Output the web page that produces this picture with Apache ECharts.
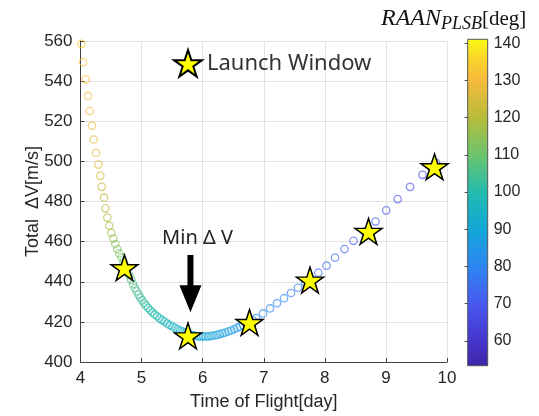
<!DOCTYPE html>
<html>
<head>
<meta charset="utf-8">
<script src="https://cdn.jsdelivr.net/npm/echarts@6/dist/echarts.min.js"></script>
<style>
  html, body { margin: 0; padding: 0; background: #fff; }
  #chart { width: 539px; height: 416px; }
</style>
</head>
<body>
<div id="chart"></div>
<script>
// Transfer solutions: time of flight [day], total delta-V [m/s], RAAN of the PLSB orbit [deg]
const tof = [
  4.013, 4.041, 4.085, 4.123, 4.151, 4.188, 4.216, 4.254, 4.291, 4.324, 4.347,
  4.385, 4.409, 4.439, 4.472, 4.503, 4.537, 4.570, 4.602, 4.635, 4.671, 4.704,
  4.737, 4.766, 4.797, 4.828, 4.860, 4.892, 4.922, 4.951, 4.981, 5.010, 5.041,
  5.072, 5.105, 5.140, 5.176, 5.213, 5.253, 5.293, 5.334, 5.377, 5.419, 5.462,
  5.505, 5.547, 5.590, 5.632, 5.675, 5.717, 5.760, 5.803,
  5.845, 5.888, 5.930, 5.973, 6.015, 6.058, 6.102, 6.146, 6.191, 6.235, 6.281,
  6.326, 6.372, 6.420, 6.467, 6.515, 6.562, 6.611, 6.660, 6.710, 6.759, 6.820,
  6.873, 6.988, 7.103, 7.217, 7.332, 7.446, 7.561, 7.676, 7.766, 7.893, 8.028,
  8.167, 8.322, 8.470, 8.650, 8.830, 9.005, 9.192, 9.395, 9.599, 9.820
];
const deltaV = [
  558.6, 549.4, 540.9, 532.6, 525.1, 517.8, 510.9, 504.3, 498.4, 492.8, 487.3,
  481.9, 476.6, 472.0, 467.9, 464.4, 461.5, 458.8, 456.3, 454.1, 452.1, 449.9,
  447.7, 445.5, 443.3, 441.1, 438.8, 436.9, 435.2, 433.6, 432.1, 430.7, 429.4,
  428.2, 427.0, 425.9, 424.8, 423.7, 422.8, 421.8, 420.9, 420.1, 419.2, 418.4,
  417.7, 417.0, 416.3, 415.7, 415.1, 414.6, 414.1, 413.6,
  413.3, 413.0, 412.8, 412.7, 412.7, 412.7, 412.8, 413.0, 413.2, 413.5, 413.9,
  414.3, 414.7, 415.2, 415.7, 416.3, 417.0, 417.6, 418.4, 419.2, 420.0, 420.8,
  421.9, 424.2, 426.7, 429.3, 431.8, 434.4, 437.0, 439.6, 441.4, 444.5, 448.0,
  452.0, 456.3, 460.4, 464.9, 470.0, 475.6, 481.2, 487.3, 493.3, 499.3
];
const raan = [
  133.0, 132.1, 131.0, 130.2, 129.1, 128.0, 127.2, 126.1, 125.0, 124.1, 123.0,
  121.6, 120.4, 119.1, 117.9, 116.6, 115.4, 114.2, 113.1, 112.0, 111.1, 110.0,
  109.1, 108.3, 107.6, 106.9, 106.3, 105.7, 105.0, 104.4, 103.8, 103.2, 102.6,
  102.0, 101.4, 100.8, 100.2, 99.6, 99.0, 98.4, 97.8, 97.3, 96.7, 96.2,
  95.7, 95.2, 94.7, 94.2, 93.7, 93.2, 92.7, 92.2,
  91.7, 91.3, 90.9, 90.5, 90.1, 89.7, 89.3, 88.9, 88.5, 88.1, 87.7,
  87.3, 86.9, 86.5, 86.1, 85.7, 85.3, 84.9, 84.5, 84.1, 83.7, 83.3,
  82.5, 81.6, 80.7, 79.8, 78.9, 78.1, 77.3, 76.5, 75.9, 75.1, 74.3,
  73.5, 72.6, 71.8, 70.9, 70.0, 69.1, 68.2, 67.3, 66.4, 65.5
];

// Launch windows (one per day)
const windowTof = [4.72, 5.76, 6.767, 7.757, 8.715, 9.796];
const windowDv = [447.0, 413.0, 419.7, 440.8, 465.1, 497.3];

// Colour bar range and ticks [deg]
const raanLimits = [53.3, 141.1];
const raanTicks = [60, 70, 80, 90, 100, 110, 120, 130, 140];

// "Min ΔV" call-out, in data units
const minDvArrow = [5.80, 453.3, 424.8];
const minDvLabel = [5.916, 461.8];

// parula-like colour map
const cmapStops = [
  [0.000, [62, 38, 168]],
  [0.080, [69, 54, 204]],
  [0.190, [72, 88, 240]],
  [0.300, [46, 132, 242]],
  [0.420, [18, 168, 216]],
  [0.530, [34, 187, 174]],
  [0.645, [108, 196, 110]],
  [0.760, [184, 188, 58]],
  [0.875, [246, 186, 60]],
  [0.940, [250, 213, 42]],
  [1.000, [249, 251, 20]]
];
function cmapAt(t) {
  for (let i = 1; i < cmapStops.length; i++) {
    const [t1, c1] = cmapStops[i];
    const [t0, c0] = cmapStops[i - 1];
    if (t <= t1) {
      const f = (t - t0) / (t1 - t0);
      const c = c0.map((v, k) => Math.round(v + (c1[k] - v) * f));
      return 'rgb(' + c.join(',') + ')';
    }
  }
  return 'rgb(' + cmapStops[cmapStops.length - 1][1].join(',') + ')';
}
const cmapColors = Array.from({ length: 41 }, (_, i) => cmapAt(i / 40));

// five-pointed star marker
function starPath() {
  const pts = [];
  for (let k = 0; k < 10; k++) {
    const r = k % 2 === 0 ? 10 : 3.82;
    const a = -Math.PI / 2 + k * Math.PI / 5;
    pts.push((r * Math.cos(a)).toFixed(3) + ' ' + (r * Math.sin(a)).toFixed(3));
  }
  return 'path://M' + pts.join(' L') + ' Z';
}
const STAR = starPath();

const textColor = '#262626';
const sans = '"Liberation Sans", Arial, sans-serif';
const serif = '"Liberation Serif", serif';

const chart = echarts.init(document.getElementById('chart'), null, { renderer: 'canvas' });

chart.setOption({
  animation: false,
  backgroundColor: '#fff',
  title: {
    text: '{it|RAAN}{sub|PLSB}{up|[deg]}',
    left: 376,
    top: 0,
    textStyle: {
      fontWeight: 'normal',
      rich: {
        it: { fontFamily: serif, fontStyle: 'italic', fontWeight: 'normal', fontSize: 24, color: '#111', lineHeight: 28 },
        sub: { fontFamily: serif, fontStyle: 'italic', fontWeight: 'normal', fontSize: 18, color: '#111', lineHeight: 28, padding: [10, 0, 0, 0] },
        up: { fontFamily: serif, fontWeight: 'normal', fontSize: 21, color: '#111', lineHeight: 28 }
      }
    }
  },
  legend: {
    data: [{ name: 'Launch Window', icon: STAR }],
    left: 168,
    top: 44,
    itemWidth: 28,
    itemHeight: 27,
    itemGap: 6,
    textStyle: { fontSize: 22, color: '#333', fontFamily: '"Noto Sans", sans-serif' }
  },
  grid: [
    { left: 80.5, right: 92, top: 41, bottom: 49.5 },
    { left: 467.7, width: 20, top: 39.3, height: 326.4 }
  ],
  xAxis: [
    {
      gridIndex: 0, type: 'value', min: 4, max: 10, interval: 1,
      name: 'Time of Flight[day]', nameLocation: 'middle', nameGap: 31, nameMoveOverlap: false,
      nameTextStyle: { fontSize: 18, color: textColor, fontFamily: sans },
      axisLine: { show: true, lineStyle: { color: '#404040', width: 1 } },
      axisTick: { show: true, inside: true, length: 4, lineStyle: { color: '#404040' } },
      axisLabel: { fontSize: 17, color: textColor, margin: 8, fontFamily: sans },
      splitLine: { show: true, lineStyle: { color: '#e2e2e2', width: 1 } }
    },
    { gridIndex: 1, type: 'value', min: 0, max: 1, show: false }
  ],
  yAxis: [
    {
      gridIndex: 0, type: 'value', min: 400, max: 560, interval: 20,
      name: 'Total  ΔV[m/s]', nameLocation: 'middle', nameGap: 38, nameRotate: 90, nameMoveOverlap: false,
      nameTextStyle: { fontSize: 18, color: textColor, fontFamily: sans },
      axisLine: { show: true, lineStyle: { color: '#404040', width: 1 } },
      axisTick: { show: true, inside: true, length: 4, lineStyle: { color: '#404040' } },
      axisLabel: { fontSize: 17, color: textColor, margin: 8, fontFamily: sans },
      splitLine: { show: true, lineStyle: { color: '#e2e2e2', width: 1 } }
    },
    {
      gridIndex: 1, type: 'value', min: raanLimits[0], max: raanLimits[1], position: 'right',
      axisLine: { show: false },
      axisTick: { show: true, inside: true, length: 3, customValues: raanTicks, lineStyle: { color: '#404040' } },
      axisLabel: { customValues: raanTicks, fontSize: 16, color: textColor, margin: 6, fontFamily: sans },
      splitLine: { show: false }
    }
  ],
  visualMap: {
    type: 'continuous', show: false, seriesIndex: 0, dimension: 2,
    min: raanLimits[0], max: raanLimits[1],
    inRange: { color: cmapColors }
  },
  series: [
    {
      name: 'solutions',
      type: 'custom',
      xAxisIndex: 0, yAxisIndex: 0,
      silent: true,
      z: 2,
      data: tof.map((t, i) => [t, deltaV[i], raan[i]]),
      renderItem: function (params, api) {
        const p = api.coord([api.value(0), api.value(1)]);
        return {
          type: 'circle',
          shape: { cx: p[0], cy: p[1], r: 3.7 },
          style: { fill: 'none', stroke: api.visual('color'), lineWidth: 1.3, opacity: 0.65 }
        };
      }
    },
    {
      name: 'Launch Window',
      type: 'scatter',
      xAxisIndex: 0, yAxisIndex: 0,
      z: 5,
      symbol: STAR,
      symbolSize: [27, 25.7],
      itemStyle: { color: '#ffff00', borderColor: '#000', borderWidth: 1.5, opacity: 1 },
      data: windowTof.map((t, i) => [t, windowDv[i]])
    },
    {
      name: 'min-dv-callout',
      type: 'custom',
      xAxisIndex: 0, yAxisIndex: 0,
      silent: true,
      z: 6,
      data: [[minDvArrow[0], minDvArrow[1], minDvArrow[2], minDvLabel[0], minDvLabel[1]]],
      renderItem: function (params, api) {
        const top = api.coord([api.value(0), api.value(1)]);
        const tip = api.coord([api.value(0), api.value(2)]);
        const lab = api.coord([api.value(3), api.value(4)]);
        const sw = 3, hw = 11, hl = 27;
        const x = top[0];
        return {
          type: 'group',
          children: [
            {
              type: 'polygon',
              shape: { points: [
                [x - sw, top[1]], [x + sw, top[1]], [x + sw, tip[1] - hl], [x + hw, tip[1] - hl],
                [x, tip[1]], [x - hw, tip[1] - hl], [x - sw, tip[1] - hl]
              ] },
              style: { fill: '#000' }
            },
            {
              type: 'text',
              x: lab[0], y: lab[1],
              style: { text: 'Min Δ V', fontSize: 20, fontFamily: '"Noto Sans", sans-serif', fill: '#222', align: 'center', verticalAlign: 'middle' }
            }
          ]
        };
      }
    },
    {
      name: 'colorbar',
      type: 'custom',
      xAxisIndex: 1, yAxisIndex: 1,
      silent: true,
      data: [[0, raanLimits[0], 1, raanLimits[1]]],
      renderItem: function (params, api) {
        const a = api.coord([api.value(0), api.value(1)]);
        const b = api.coord([api.value(2), api.value(3)]);
        const stops = cmapStops.map(s => ({ offset: s[0], color: 'rgb(' + s[1].join(',') + ')' }));
        return {
          type: 'rect',
          shape: { x: a[0], y: b[1], width: b[0] - a[0], height: a[1] - b[1] },
          style: { fill: new echarts.graphic.LinearGradient(0, 1, 0, 0, stops), stroke: '#555', lineWidth: 1 }
        };
      }
    }
  ]
});
</script>
</body>
</html>
